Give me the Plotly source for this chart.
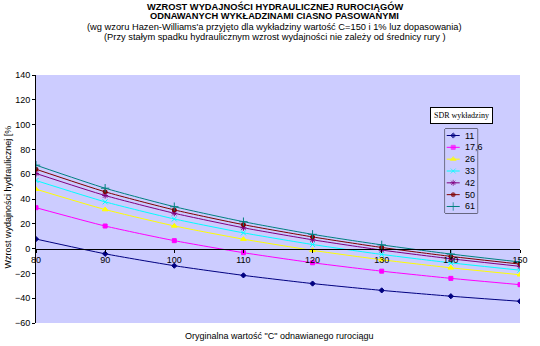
import plotly.graph_objects as go

c_values = [80, 90, 100, 110, 120, 130, 140, 150]
sdr_labels = ["11", "17,6", "26", "33", "42", "50", "61"]
s11 = [7.7, -4.2, -13.8, -21.6, -28.2, -33.7, -38.4, -42.5]
s17 = [33.0, 18.2, 6.4, -3.3, -11.4, -18.2, -24.0, -29.1]
s26 = [47.9, 31.5, 18.3, 7.6, -1.4, -9.0, -15.5, -21.1]
s33 = [54.9, 37.7, 23.9, 12.7, 3.3, -4.7, -11.5, -17.4]
s42 = [60.6, 42.8, 28.5, 16.8, 7.1, -1.2, -8.2, -14.3]
s50 = [64.0, 45.8, 31.2, 19.3, 9.4, 0.9, -6.3, -12.5]
s61 = [67.3, 48.7, 33.8, 21.7, 11.5, 3.0, -4.4, -10.8]
series = [s11, s17, s26, s33, s42, s50, s61]
y_ticks = [-60, -40, -20, 0, 20, 40, 60, 80, 100, 120, 140]

colors = ["#000080", "#FF00FF", "#FFFF00", "#00FFFF", "#800080", "#800000", "#008080"]
symbols = ["diamond", "square", "triangle-up", "x-thin-open", "asterisk-open", "circle", "cross-thin-open"]
sizes = [4, 4, 5, 5, 5, 4, 6]

W, H = 540, 346
L, R, T, B = 36, 527, 75, 323
PW, PH = R - L, B - T


def px_x(p):
    return (p - L) / PW


def px_y(p):
    return 1 - (p - T) / PH


fig = go.Figure()
for lab, ys, col, sym, sz in zip(sdr_labels, series, colors, symbols, sizes):
    fig.add_trace(go.Scatter(
        x=c_values, y=ys, name=lab, mode="lines+markers", showlegend=False,
        line=dict(color=col, width=1, shape="spline", smoothing=0.6),
        marker=dict(symbol=sym, size=sz, color=col, line=dict(color=col, width=1)),
    ))

# legend drawn as a small inset subplot
n = len(sdr_labels)
for i, (lab, col, sym, sz) in enumerate(zip(sdr_labels, colors, symbols, sizes)):
    fig.add_trace(go.Scatter(
        x=[0.05, 0.25, 0.45], y=[i, i, i], mode="lines+markers", showlegend=False,
        xaxis="x2", yaxis="y2", hoverinfo="skip",
        line=dict(color=col, width=1),
        marker=dict(symbol=sym, size=[0, sz, 0], color=col, line=dict(color=col, width=1)),
    ))
    fig.add_annotation(text=lab, xref="x2", yref="y2", x=0.55, y=i, xanchor="left",
                       yanchor="middle", showarrow=False,
                       font=dict(family="Liberation Sans, Arial, sans-serif", size=9))

font = "Liberation Sans, Arial, sans-serif"
fig.update_layout(
    width=W, height=H,
    margin=dict(l=L, r=W - R, t=T, b=H - B),
    paper_bgcolor="white", plot_bgcolor="#CCCCFF",
    font=dict(family=font, size=9, color="black"),
    showlegend=False,
    xaxis2=dict(domain=[px_x(451), px_x(484)], range=[0, 1], anchor="y2", visible=False,
                fixedrange=True),
    yaxis2=dict(domain=[px_y(213), px_y(129)], range=[n - 0.45, -0.55], anchor="x2",
                visible=False, fixedrange=True),
)
fig.add_shape(type="rect", xref="x2 domain", yref="y2 domain", x0=0, x1=1, y0=0, y1=1,
              fillcolor="white", line=dict(color="black", width=1), layer="below")

fig.update_layout(xaxis=dict(
    range=[80, 150], tickvals=c_values, ticktext=[str(v) for v in c_values],
    anchor="free", position=0.3, showline=True, linecolor="black", linewidth=1,
    ticks="outside", ticklen=3, tickcolor="black", showgrid=False, zeroline=False,
    tickfont=dict(size=9), ticklabelstandoff=0,
))
fig.update_layout(yaxis=dict(
    range=[-60, 140], tickvals=y_ticks, showline=True, linecolor="black", linewidth=1,
    ticks="outside", ticklen=3, tickcolor="black", showgrid=False, zeroline=False,
    tickfont=dict(size=9),
))

title_lines = [
    ("<b>WZROST WYDAJNOŚCI HYDRAULICZNEJ RUROCIĄGÓW</b>", 6.3, 9.3),
    ("<b>ODNAWANYCH WYKŁADZINAMI CIASNO PASOWANYMI</b>", 16.3, 9.3),
    ("(wg wzoru Hazen-Williams'a przyjęto dla wykładziny wartość C=150 i 1% luz dopasowania)", 27, 9.3),
    ("(Przy stałym spadku hydraulicznym wzrost wydajności nie zależy od średnicy rury )", 37, 9.3),
]
for txt, ypx, fs in title_lines:
    fig.add_annotation(text=txt, xref="paper", yref="paper",
                       x=px_x(278), y=px_y(ypx),
                       xanchor="center", yanchor="middle", showarrow=False,
                       font=dict(family=font, size=fs))

fig.add_annotation(text="Wzrost wydajności hydraulicznej [%", xref="paper", yref="paper",
                   x=px_x(8), y=px_y(197), textangle=-90,
                   xanchor="center", yanchor="middle", showarrow=False,
                   font=dict(family=font, size=9))
fig.add_annotation(text='Oryginalna wartość "C" odnawianego rurociągu', xref="paper", yref="paper",
                   x=px_x(283), y=px_y(336),
                   xanchor="center", yanchor="middle", showarrow=False,
                   font=dict(family=font, size=9))
fig.add_annotation(text="SDR wykładziny", xref="paper", yref="paper",
                   x=px_x(468), y=px_y(115),
                   xanchor="center", yanchor="middle", showarrow=False,
                   font=dict(family="Liberation Serif, Times New Roman, serif", size=8),
                   bgcolor="white", bordercolor="black", borderwidth=1, borderpad=3)

fig.write_html("out.html")
